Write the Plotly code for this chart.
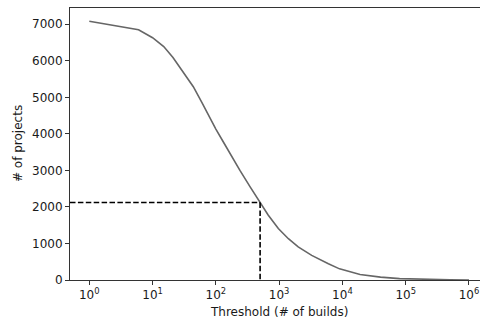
import plotly.graph_objects as go

# Data
thresholds = [1, 6, 10, 15, 21, 30, 44, 60, 80, 100, 130, 170, 240, 350, 500,
              670, 970, 1400, 2000, 3270, 6000, 9000, 19000, 40000, 80000,
              200000, 500000, 1000000]
projects = [7080, 6850, 6630, 6390, 6090, 5720, 5290, 4860, 4440, 4130, 3790,
            3430, 3000, 2540, 2130, 1780, 1410, 1130, 905, 675, 445, 305, 150,
            80, 38, 15, 5, 1]

selected_threshold = 500
selected_projects = 2120

x_tick_vals = [1, 10, 100, 1000, 10000, 100000, 1000000]
x_tick_text = ["10<sup>0</sup>", "10<sup>1</sup>", "10<sup>2</sup>", "10<sup>3</sup>",
               "10<sup>4</sup>", "10<sup>5</sup>", "10<sup>6</sup>"]
y_tick_vals = [0, 1000, 2000, 3000, 4000, 5000, 6000, 7000]
y_tick_text = ["0", "1000", "2000", "3000", "4000", "5000", "6000", "7000"]

x_range_log = [-0.305, 6.174]
y_range = [0, 7444]

FONT = "DejaVu Sans"
AXIS_COLOR = "#333333"
FS = 12

fig = go.Figure()

fig.add_trace(go.Scatter(
    x=thresholds, y=projects, mode="lines",
    line=dict(color="#666666", width=1.6),
    hoverinfo="skip", showlegend=False,
))

# dashed guide lines
fig.add_trace(go.Scatter(
    x=[10 ** x_range_log[0], selected_threshold],
    y=[selected_projects, selected_projects],
    mode="lines", line=dict(color="black", width=1.6, dash="5.5px,2.4px"),
    hoverinfo="skip", showlegend=False,
))
fig.add_trace(go.Scatter(
    x=[selected_threshold, selected_threshold],
    y=[selected_projects, 0],
    mode="lines", line=dict(color="black", width=1.6, dash="5.5px,2.4px"),
    hoverinfo="skip", showlegend=False,
))

fig.update_layout(
    width=480, height=327,
    margin=dict(l=70, r=0, t=8, b=47),
    paper_bgcolor="white", plot_bgcolor="white",
    font=dict(family=FONT, size=FS, color="#1a1a1a"),
    xaxis=dict(
        type="log", range=x_range_log,
        tickvals=x_tick_vals, ticktext=x_tick_text,
        ticks="outside", ticklen=4, tickwidth=1, tickcolor=AXIS_COLOR,
        showline=True, linecolor=AXIS_COLOR, linewidth=1, mirror=True,
        showgrid=False, zeroline=False,
        tickfont=dict(family=FONT, size=FS),
    ),
    yaxis=dict(
        range=y_range,
        tickvals=y_tick_vals, ticktext=y_tick_text,
        ticks="outside", ticklen=4, tickwidth=1, tickcolor=AXIS_COLOR,
        showline=True, linecolor=AXIS_COLOR, linewidth=1,
        showgrid=False, zeroline=False,
        tickfont=dict(family=FONT, size=FS),
    ),
    annotations=[
        dict(text="Threshold (# of builds)", xref="paper", yref="paper",
             x=0.5098, y=-0.1176, xanchor="center", yanchor="middle",
             showarrow=False, font=dict(family=FONT, size=FS)),
        dict(text="# of projects", xref="paper", yref="paper",
             x=-0.1268, y=0.5, xanchor="center", yanchor="middle",
             textangle=-90, showarrow=False, font=dict(family=FONT, size=FS)),
    ],
)

fig.write_html("out.html",
               config={"displayModeBar": False},
               post_script="document.body.style.margin='0';document.body.style.overflow='hidden';")
